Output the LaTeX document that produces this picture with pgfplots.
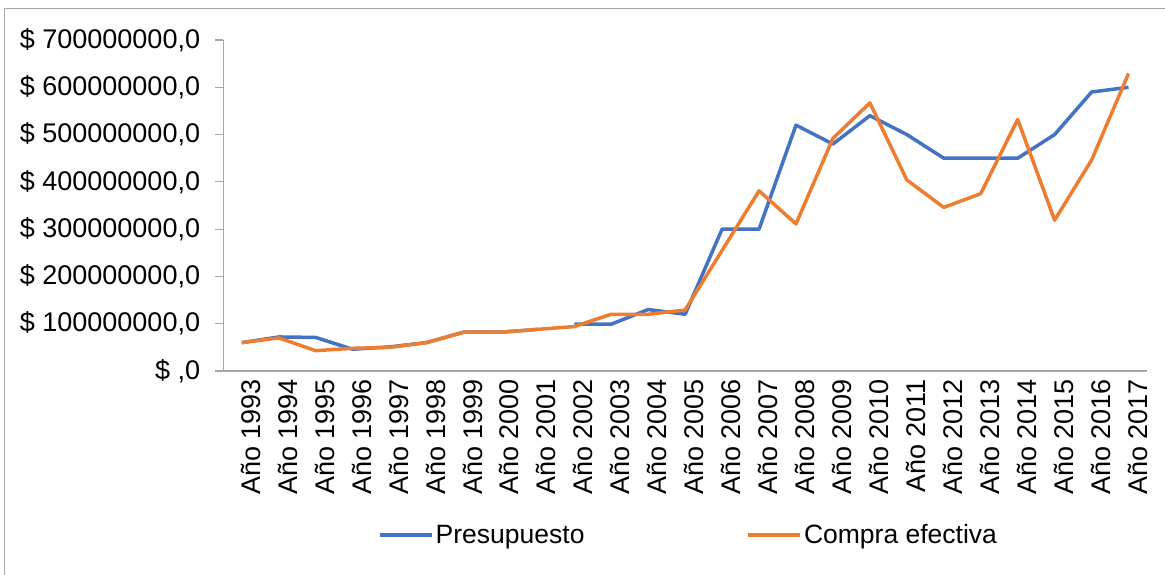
\documentclass[border=0pt]{standalone}
\usepackage{pgfplots}
\pgfplotsset{compat=1.18}
\usepackage{fontspec}
\setmainfont{Liberation Sans}
\definecolor{cblue}{HTML}{4472C4}
\definecolor{corange}{HTML}{ED7D31}
\definecolor{axgray}{HTML}{A6A6A6}
\begin{document}
\begin{tikzpicture}
\useasboundingbox (0pt,0pt) rectangle (1165pt,-575pt);
\draw[axgray, line width=1.3pt] (4.7pt,-580pt) -- (4.7pt,-8.5pt) -- (1170pt,-8.5pt);
\begin{axis}[
  at={(223.3pt,-371pt)}, anchor=south west,
  scale only axis, width=923.7pt, height=331pt,
  xmin=-0.5, xmax=24.5, ymin=0, ymax=700000000,
  axis x line*=bottom, axis y line*=left,
  axis line style={axgray, line width=1.1pt, -},
  xtick={0,...,24},
  xticklabels={A\~no 1993,A\~no 1994,A\~no 1995,A\~no 1996,A\~no 1997,A\~no 1998,A\~no 1999,A\~no 2000,A\~no 2001,A\~no 2002,A\~no 2003,A\~no 2004,A\~no 2005,A\~no 2006,A\~no 2007,A\~no 2008,A\~no 2009,A\~no 2010,A\~no 2011,A\~no 2012,A\~no 2013,A\~no 2014,A\~no 2015,A\~no 2016,A\~no 2017},
  x tick style={draw=none},
  minor xtick={-0.5,0.5,...,24.5},
  minor x tick style={axgray, line width=1.1pt},
  tick align=outside,
  major tick length=8pt, minor tick length=8pt,
  ytick={0,100000000,200000000,300000000,400000000,500000000,600000000,700000000},
  yticklabels={{\$ ,0},{\$ 100000000,0},{\$ 200000000,0},{\$ 300000000,0},{\$ 400000000,0},{\$ 500000000,0},{\$ 600000000,0},{\$ 700000000,0}},
  y tick style={axgray, line width=1.1pt},
  ticklabel style={font=\fontsize{27}{30}\selectfont, text=black},
  xticklabel style={rotate=90, anchor=east, inner sep=0pt, yshift=-9pt},
  yticklabel style={anchor=east, inner sep=0pt, xshift=-15pt},
  scaled y ticks=false,
  clip=false,
  legend columns=2,
  legend style={draw=none, fill=none, font=\fontsize{26.5}{30}\selectfont,
    at={(0.1675,-0.495)}, anchor=west, inner sep=0pt,
    /tikz/every even column/.append style={column sep=160pt}},
  legend cell align=left,
  legend image code/.code={\draw[#1, line width=3.5pt] (0pt,0pt) -- (52pt,0pt);},
]
\addplot[cblue, line width=3.5pt, line join=round] coordinates {
(0,60000000) (1,72000000) (2,71000000) (3,46000000) (4,51000000) (5,60000000) (6,82000000) (7,82000000) (8,88000000)
};
\addlegendentry{Presupuesto}
\addplot[cblue, line width=3.5pt, line join=round, forget plot] coordinates {
(9,99000000) (10,99000000) (11,130000000) (12,120000000) (13,300000000) (14,300000000) (15,520000000) (16,480000000) (17,540000000) (18,500000000) (19,450000000) (20,450000000) (21,450000000) (22,500000000) (23,590000000) (24,600000000)
};
\addplot[corange, line width=3.5pt, line join=round] coordinates {
(0,60000000) (1,70000000) (2,43000000) (3,48000000) (4,50000000) (5,60000000) (6,82000000) (7,82000000) (8,88000000) (9,94000000) (10,120000000) (11,120000000) (12,129000000) (13,255000000) (14,381000000) (15,311000000) (16,492000000) (17,567000000) (18,404000000) (19,346000000) (20,375000000) (21,532000000) (22,319000000) (23,446000000) (24,629000000)
};
\addlegendentry{Compra efectiva}
\end{axis}
\end{tikzpicture}
\end{document}
